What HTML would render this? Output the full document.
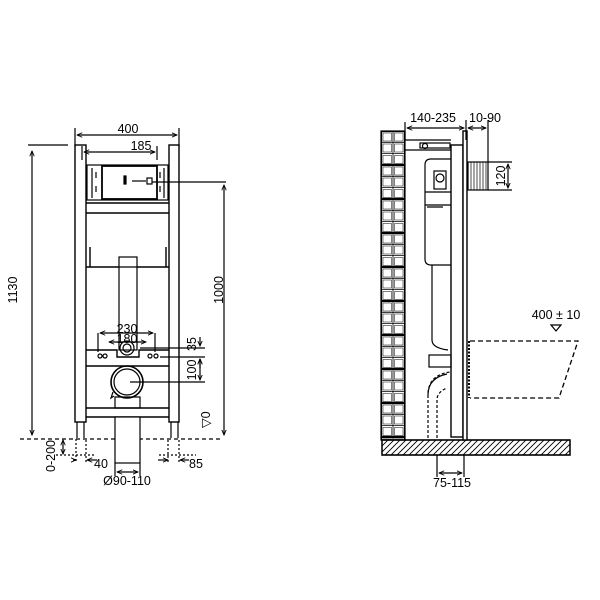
<!DOCTYPE html>
<html><head><meta charset="utf-8"><style>
html,body{margin:0;padding:0;background:#fff;width:600px;height:600px;overflow:hidden}
svg{display:block}
text{font-family:"Liberation Sans",sans-serif;font-size:12.5px;fill:#000}
</style></head><body>
<svg width="600" height="600" viewBox="0 0 600 600" xmlns="http://www.w3.org/2000/svg">
<defs>
<marker id="a" viewBox="0 0 8 8" refX="7" refY="4" markerWidth="5" markerHeight="5" orient="auto-start-reverse"><path d="M0,1 L7,4 L0,7" fill="none" stroke="#000" stroke-width="1.2"/></marker>
<pattern id="h" width="6" height="6" patternUnits="userSpaceOnUse"><path d="M0,6 L6,0 M-1,1 L1,-1 M5,7 L7,5" stroke="#000" stroke-width="0.9"/></pattern>
<pattern id="br" x="381" y="131" width="24" height="34" patternUnits="userSpaceOnUse">
<rect x="0.5" y="0.5" width="23" height="33" fill="#fff" stroke="#000" stroke-width="1.2"/>
<path d="M12,0 V34 M0,11.3 H24 M0,22.6 H24" stroke="#000" stroke-width="0.8"/>
<rect x="2" y="2" width="8.5" height="8" fill="none" stroke="#000" stroke-width="0.5"/>
<rect x="13.5" y="2" width="8.5" height="8" fill="none" stroke="#000" stroke-width="0.5"/>
<rect x="2" y="13" width="8.5" height="8" fill="none" stroke="#000" stroke-width="0.5"/>
<rect x="13.5" y="13" width="8.5" height="8" fill="none" stroke="#000" stroke-width="0.5"/>
<rect x="2" y="24.5" width="8.5" height="8" fill="none" stroke="#000" stroke-width="0.5"/>
<rect x="13.5" y="24.5" width="8.5" height="8" fill="none" stroke="#000" stroke-width="0.5"/>
</pattern>
</defs>
<g fill="none" stroke="#000" stroke-width="1.2">
<rect x="75" y="145" width="11" height="277" fill="#fff" stroke-width="1.4"/>
<rect x="169" y="145" width="10" height="277" fill="#fff" stroke-width="1.4"/>
<path d="M77,422 V438 M84,422 V438 M171,422 V438 M178,422 V438"/>
<path d="M20,439 H222" stroke-dasharray="4,3"/>
<rect x="87" y="165" width="81" height="35"/>
<rect x="102" y="166" width="55" height="33" stroke-width="1.8"/>
<path d="M92,168 V198 M164,168 V198 M96,172 v6 M96,186 v6 M160,172 v6 M160,186 v6"/>
<rect x="124" y="176" width="2" height="8" fill="#000"/>
<path d="M132,181 H146"/>
<rect x="147" y="178" width="5" height="6"/>
<path d="M86,203 H169 M86,213 H169 M86,267 H169 M90,247 V267 M166,247 V267" stroke-width="1.4"/>
<rect x="119" y="257" width="18" height="93" fill="#fff"/>
<path d="M119,267 H137"/>
<path d="M86,350 H117 L117,357 L139,357 L139,350 H169 M86,366 H169" stroke-width="1.4"/>
<circle cx="127" cy="348" r="7"/><circle cx="127" cy="348" r="4"/>
<circle cx="100" cy="356" r="2"/><circle cx="105" cy="356" r="2"/><circle cx="150" cy="356" r="2"/><circle cx="156" cy="356" r="2"/>
<path d="M98,333 V352 M155,333 V352"/>
<circle cx="127" cy="382" r="16" stroke-width="1.6"/><circle cx="127" cy="382" r="13"/>
<path d="M113,392 L111,398 L114,396"/>
<rect x="115" y="397" width="25" height="11"/>
<path d="M86,408 H169 M86,417 H169" stroke-width="1.4"/>
<rect x="115" y="417" width="25" height="46" fill="#fff"/>
<path d="M75,128 V147 M179,128 V147"/>
<path d="M77,135 H177" marker-start="url(#a)" marker-end="url(#a)"/>
<path d="M82,146 V160 M157,146 V160"/>
<path d="M84,152 H155" marker-start="url(#a)" marker-end="url(#a)"/>
<path d="M28,145 H68"/>
<path d="M32,151 V435" marker-start="url(#a)" marker-end="url(#a)"/>
<path d="M152,182 H226"/>
<path d="M224,185 V435" marker-start="url(#a)" marker-end="url(#a)"/>
<path d="M100,333 H153" marker-start="url(#a)" marker-end="url(#a)"/>
<path d="M109,342 H146" marker-start="url(#a)" marker-end="url(#a)"/>
<path d="M140,348 H205 M160,357 H205 M130,382 H205"/>
<path d="M200,337 V346" marker-end="url(#a)"/>
<path d="M200,368 V359" marker-end="url(#a)"/>
<path d="M200,359 V380" marker-start="url(#a)" marker-end="url(#a)"/>
<path d="M63,440 V454" marker-start="url(#a)" marker-end="url(#a)"/>
<path d="M56,455 H96 M159,455 H196" stroke-dasharray="2,2"/>
<path d="M76,439 V462 M86,440 V462 M168,440 V462 M179,440 V462" stroke-dasharray="2,2"/>
<path d="M73,460 H76" marker-end="url(#a)"/><path d="M97,460 H87" marker-end="url(#a)"/>
<path d="M158,460 H168" marker-end="url(#a)"/><path d="M189,460 H180" marker-end="url(#a)"/>
<path d="M115,463 V476 M140,463 V476"/>
<path d="M117,472 H138" marker-start="url(#a)" marker-end="url(#a)"/>
<rect x="381" y="131" width="24" height="309" fill="url(#br)" stroke="#000"/>
<rect x="382" y="440" width="188" height="15" fill="url(#h)"/>
<path d="M382,440 H570 V455 H382 Z" stroke-width="1.4"/>
<path d="M405,140 H451 M405,150 H451"/>
<rect x="420" y="143" width="30" height="5"/>
<circle cx="425" cy="146" r="2.5"/>
<rect x="451" y="145" width="12" height="292" fill="#fff" stroke-width="1.4"/>
<rect x="463" y="131" width="4" height="309" fill="#fff" stroke-width="1.4"/>
<path d="M425,165 V259 Q425,265 431,265 H451 M425,165 Q425,159 431,159 H451 M425,192 H451 M425,205 H451 M427,207 H443"/>
<rect x="434" y="171" width="12" height="18"/>
<circle cx="440" cy="178" r="4"/>
<path d="M432,265 V340 Q432,348 448,350"/>
<rect x="429" y="355" width="22" height="12"/>
<path d="M428,438 V395 Q428,375 450,372 M437,438 V400 Q437,392 447,388" stroke-dasharray="3,2"/>
<path d="M428,395 Q428,378 447,374"/>
<rect x="468" y="162" width="20" height="28" fill="#fff"/>
<path d="M471,162 V190 M474,162 V190 M477,162 V190 M480,162 V190 M483,162 V190 M486,162 V190" stroke-width="0.7"/>
<path d="M470,341 H578 L559,398 H470" stroke-dasharray="5,3" stroke-width="1.3"/>
<path d="M469,341 V398" stroke-dasharray="2,1.5" stroke-width="2"/>
<path d="M551,325 L556,331 L561,325 Z"/>
<path d="M405,122 V140 M466,120 V140 M488,120 V162"/>
<path d="M407,128 H464" marker-start="url(#a)" marker-end="url(#a)"/>
<path d="M468,128 H486" marker-start="url(#a)" marker-end="url(#a)"/>
<path d="M488,162 H512 M488,190 H512"/>
<path d="M508,164 V188" marker-start="url(#a)" marker-end="url(#a)"/>
<path d="M437,455 V477 M464,455 V477"/>
<path d="M439,473 H462" marker-start="url(#a)" marker-end="url(#a)"/>
</g>
<text x="128" y="133" text-anchor="middle">400</text>
<text x="141" y="150" text-anchor="middle">185</text>
<text x="127" y="333" text-anchor="middle">230</text>
<text x="127" y="343" text-anchor="middle">180</text>
<text transform="translate(17,290) rotate(-90)" text-anchor="middle">1130</text>
<text transform="translate(223,290) rotate(-90)" text-anchor="middle">1000</text>
<text transform="translate(196,344) rotate(-90)" text-anchor="middle">35</text>
<text transform="translate(196,370) rotate(-90)" text-anchor="middle">100</text>
<text transform="translate(55,456) rotate(-90)" text-anchor="middle">0-200</text>
<text x="210" y="428" transform="rotate(-90 210 428)" font-size="9">▽0</text>
<text x="101" y="468" text-anchor="middle">40</text>
<text x="196" y="468" text-anchor="middle">85</text>
<text x="127" y="485" text-anchor="middle">Ø90-110</text>
<text x="433" y="122" text-anchor="middle">140-235</text>
<text x="485" y="122" text-anchor="middle">10-90</text>
<text transform="translate(505,176) rotate(-90)" text-anchor="middle">120</text>
<text x="556" y="319" text-anchor="middle">400 ± 10</text>
<text x="452" y="487" text-anchor="middle">75-115</text>
</svg>
</body></html>
